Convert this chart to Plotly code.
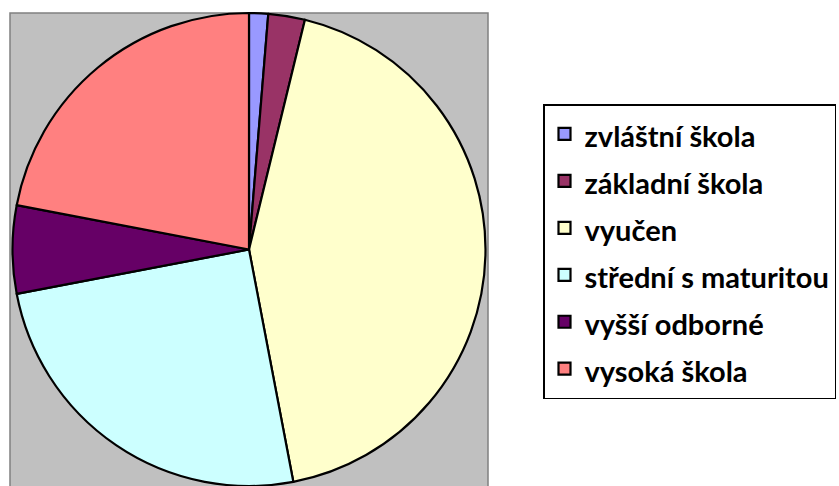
import plotly.graph_objects as go

# ---------------------------- Data --------------------------------------------
# Highest finished education, share in percent
labels = ["zvláštní škola", "základní škola", "vyučen",
          "střední s maturitou", "vyšší odborné", "vysoká škola"]
shares = [1.3, 2.5, 43.2, 25.0, 6.0, 22.0]
slice_colors = ["#9999FF", "#993366", "#FFFFCC", "#CCFFFF", "#660066", "#FF8080"]

# ---------------------------- Figure ------------------------------------------
W, H = 839, 486

# legend text is wrapped in a smaller span, the large legend font only sets row spacing
legend_labels = [f"<span style='font-size:29px'>{lab}</span>" for lab in labels]

fig = go.Figure(go.Pie(
    labels=legend_labels,
    values=shares,
    sort=False,
    direction="clockwise",
    rotation=0,
    textinfo="none",
    hovertext=labels,
    hoverinfo="text+percent",
    marker=dict(colors=slice_colors, line=dict(color="black", width=2.2)),
    domain=dict(x=[12 / W, 486 / W], y=[0, 473 / H]),
))

# grey plot area behind the pie
fig.add_shape(type="rect", xref="paper", yref="paper",
              x0=10 / W, x1=488 / W, y0=-0.01, y1=1 - 13 / H,
              fillcolor="#C0C0C0", line=dict(color="#808080", width=1.5),
              layer="below")

fig.update_layout(
    width=W, height=H,
    margin=dict(l=0, r=0, t=0, b=0, autoexpand=False),
    paper_bgcolor="white",
    plot_bgcolor="white",
    showlegend=True,
    legend=dict(
        x=543 / W, xanchor="left",
        y=1 - 104 / H, yanchor="top",
        bordercolor="black", borderwidth=1.5,
        bgcolor="white",
        font=dict(family="Lato", size=33.8, color="black", weight="bold"),
    ),
)

# drop the browser's default body margin so the page starts at 0,0
fig.write_html("out.html", config={"displayModeBar": False},
               post_script="document.body.style.margin='0';")
